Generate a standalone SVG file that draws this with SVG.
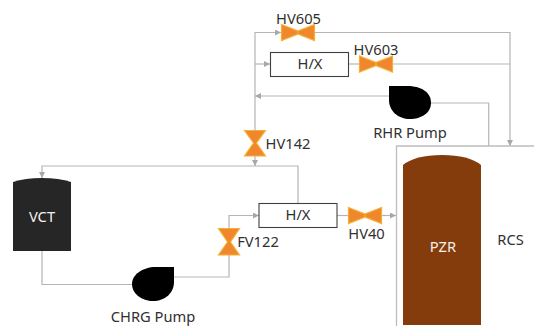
<svg xmlns="http://www.w3.org/2000/svg" width="534" height="326" viewBox="0 0 534 326">
<style>
.l{fill:none;stroke:#b5b5b5;stroke-width:1.2}
.t{font-family:"Noto Sans","Open Sans",sans-serif;font-size:14.700px;fill:#303030;text-anchor:middle}
.w{fill:#f4f0ea}
.v{fill:#f0872d;stroke:#f2b134;stroke-width:1.2;stroke-linejoin:miter}
.hx{fill:#fff;stroke:#404040;stroke-width:1.1}
</style>
<defs>
<marker id="a" markerUnits="userSpaceOnUse" markerWidth="7" markerHeight="7" refX="6" refY="3" orient="auto"><path d="M0 0L6 3L0 6z" fill="#a8a8a8"/></marker>
</defs>
<rect width="534" height="326" fill="#fff"/>
<g id="connectors">
<path class="l" d="M255 130V32.500H281" marker-end="url(#a)"/>
<path class="l" d="M255 64H270" marker-end="url(#a)"/>
<path class="l" d="M315 32.500H510V146" marker-end="url(#a)"/>
<path class="l" d="M348 64H359"/>
<path class="l" d="M393 64H510"/>
<path class="l" d="M389 96H255" marker-end="url(#a)"/>
<path class="l" d="M431 103H488.700V146"/>
<path class="l" d="M255 156V166" marker-end="url(#a)"/>
<path class="l" d="M298 203V166H42V178" marker-end="url(#a)"/>
<path class="l" d="M42 251V284.500H132"/>
<path class="l" d="M174 277H229V255"/>
<path class="l" d="M229 228V215.500H259" marker-end="url(#a)"/>
<path class="l" d="M337 215.500H348"/>
<path class="l" d="M382 215.500H396" marker-end="url(#a)"/>
</g>
<g id="rcs">
<path d="M534 146H396.500V326" fill="none" stroke="#bdbdbd" stroke-width="1.3"/>
<text class="t" x="510.500" y="245">RCS</text>
</g>
<g id="pzr">
<path d="M403 325V165Q415 155 442 155Q469 155 481 165V325z" fill="#843c0c"/>
<text class="t w" x="443" y="252">PZR</text>
</g>
<g id="vct">
<path d="M13 251V182Q25 178 42 178Q59 178 71 182V251z" fill="#262626"/>
<text class="t w" x="42" y="222">VCT</text>
</g>
<g id="hv605">
<path class="v" d="M281.500 24.500L298 31V34L281.500 40.500zM314.500 24.500L298 31V34L314.500 40.500z"/>
<text class="t" x="298.500" y="23.500">HV605</text>
</g>
<g id="hx1">
<rect class="hx" x="270.500" y="52.500" width="78" height="24"/>
<text class="t" x="310" y="69">H/X</text>
</g>
<g id="hv603">
<path class="v" d="M359.500 56L376 62.500V65.500L359.500 72zM392.500 56L376 62.500V65.500L392.500 72z"/>
<text class="t" x="376" y="54.500">HV603</text>
</g>
<g id="rhr">
<path d="M389 86H407C421 86 431 92 431 103C431 113 421 119 410 119C398 119 389 111 389 100z"/>
<text class="t" x="410" y="138">RHR Pump</text>
</g>
<g id="hv142">
<path class="v" d="M244.500 130.500H265.500L256.500 143L265.500 156H244.500L253.500 143z"/>
<text class="t" x="288" y="149">HV142</text>
</g>
<g id="hx2">
<rect class="hx" x="259" y="203.500" width="78" height="24"/>
<text class="t" x="298" y="220">H/X</text>
</g>
<g id="hv40">
<path class="v" d="M348.500 207.500L365 214V217L348.500 223.500zM381.500 207.500L365 214V217L381.500 223.500z"/>
<text class="t" x="366.500" y="239">HV40</text>
</g>
<g id="fv122">
<path class="v" d="M218.500 228.500H239.500L230.500 242L239.500 255H218.500L227.500 242z"/>
<text class="t" x="258" y="247">FV122</text>
</g>
<g id="chrg">
<path d="M174 267H156C142 267 132 275 132 284C132 294 142 301 153 301C165 301 174 293 174 282z"/>
<text class="t" x="153" y="322">CHRG Pump</text>
</g>
</svg>
